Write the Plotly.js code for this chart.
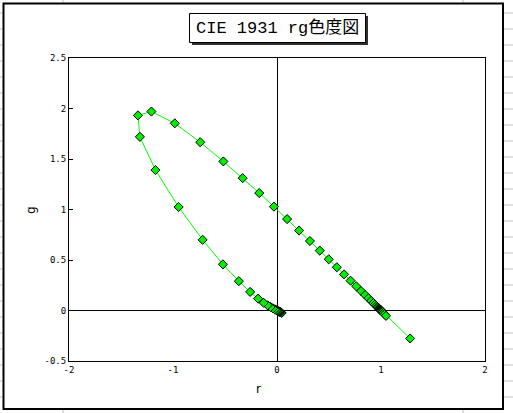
<!DOCTYPE html>
<html>
<head>
<meta charset="utf-8">
<script src="https://cdn.plot.ly/plotly-3.0.1.min.js"></script>
<style>html,body{margin:0;padding:0;background:#fff;}#chart{width:513px;height:413px;}</style>
</head>
<body>
<div id="chart"></div>
<script>
// spectral locus chromaticity coordinates (r, g)
var wavelengths = [380,385,390,395,400,405,410,415,420,425,430,435,440,445,450,455,460,465,470,475,480,485,490,495,500,505,510,515,520,525,530,535,540,545,550,555,560,565,570,575,580,585,590,595,600,605,610,615,620,625,630,635,640,645,650,655,660,665,670,675,680,685,690,695,700,705,710,715,720,725,730,735];
var rVals = [0.045,0.036,0.030,0.026,0.0247,0.0237,0.0225,0.0207,0.0181,0.0142,0.0088,0.0012,-0.0084,-0.0213,-0.0390,-0.0618,-0.0909,-0.1281,-0.1821,-0.2584,-0.3667,-0.5200,-0.7150,-0.9459,-1.1685,-1.3182,-1.3371,-1.2076,-0.9830,-0.7386,-0.5159,-0.3304,-0.1707,-0.0293,0.0974,0.2121,0.3164,0.4112,0.4973,0.5751,0.6449,0.7071,0.7617,0.8087,0.8475,0.8800,0.9059,0.9265,0.9425,0.9550,0.9649,0.9730,0.9797,0.9850,0.9888,0.9918,0.9940,0.9954,0.9966,0.9975,0.9984,0.9991,0.9996,0.9999,1.0000,1.004,1.009,1.016,1.025,1.035,1.048,1.280];
var gVals = [-0.024,-0.018,-0.014,-0.012,-0.0112,-0.0111,-0.0109,-0.0104,-0.0094,-0.0076,-0.0048,-0.0007,0.0048,0.0120,0.0218,0.0345,0.0517,0.0762,0.1175,0.1840,0.2906,0.4568,0.6996,1.0247,1.3905,1.7195,1.9318,1.9699,1.8534,1.6662,1.4761,1.3105,1.1628,1.0282,0.9051,0.7919,0.6881,0.5932,0.5067,0.4283,0.3579,0.2952,0.2402,0.1928,0.1537,0.1209,0.0949,0.0741,0.0580,0.0454,0.0354,0.0272,0.0205,0.0152,0.0113,0.0083,0.0061,0.0047,0.0035,0.0025,0.0016,0.0009,0.0004,0.0001,0.0000,-0.004,-0.009,-0.016,-0.026,-0.038,-0.053,-0.277];

var xTicks = [-2,-1,0,1,2];
var xTickText = ['-2','-1','0','1','2'];
var yTicks = [-0.5,0,0.5,1,1.5,2,2.5];
var yTickText = ['-0.5','0','0.5','1','1.5','2','2.5'];

var titleText = 'CIE 1931 rg色度図';
var xTitle = 'r';
var yTitle = 'g';

// pixel -> paper helpers (plot area 69..485 x, 58..361 y)
var L = 69, R = 485, T = 58, B = 361;
function px(x){ return (x - L) / (R - L); }
function py(y){ return (B - y) / (B - T); }

var shapes = [];
// spreadsheet gridlines outside the chart frame
for (var y = 13; y < 413; y += 16) {
  shapes.push({type:'line', xref:'paper', yref:'paper', x0:px(0), x1:px(3), y0:py(y), y1:py(y), line:{color:'#c0c0c0', width:1}, layer:'below'});
  shapes.push({type:'line', xref:'paper', yref:'paper', x0:px(504), x1:px(513), y0:py(y), y1:py(y), line:{color:'#c0c0c0', width:1}, layer:'below'});
}
[63, 463].forEach(function(x){
  shapes.push({type:'line', xref:'paper', yref:'paper', x0:px(x), x1:px(x), y0:py(0), y1:py(3), line:{color:'#c0c0c0', width:1}, layer:'below'});
  shapes.push({type:'line', xref:'paper', yref:'paper', x0:px(x), x1:px(x), y0:py(410), y1:py(413), line:{color:'#c0c0c0', width:1}, layer:'below'});
});
// chart outer frame
shapes.push({type:'rect', xref:'paper', yref:'paper', x0:px(3.5), x1:px(503), y0:py(3.5), y1:py(409), line:{color:'#000', width:2}, layer:'below'});
// title shadow + box
shapes.push({type:'rect', xref:'paper', yref:'paper', x0:px(192), x1:px(368), y0:py(16), y1:py(45), fillcolor:'#303030', line:{width:0}, layer:'above'});
shapes.push({type:'rect', xref:'paper', yref:'paper', x0:px(189.5), x1:px(365.5), y0:py(13.5), y1:py(42.5), fillcolor:'#ffffff', line:{color:'#000', width:1}, layer:'above'});

var trace = {
  x: rVals, y: gVals, type:'scatter', mode:'lines+markers',
  line:{color:'#00ff00', width:1},
  marker:{symbol:'diamond', size:7, color:'#00ee00', line:{color:'#000', width:1}},
  hoverinfo:'x+y', showlegend:false
};

var tickFont = {family:'DejaVu Sans Mono, monospace', size:9, color:'#000'};

var layout = {
  width:513, height:413,
  margin:{l:L, r:513-R, t:T, b:413-B, pad:0},
  paper_bgcolor:'#fff', plot_bgcolor:'#fff',
  showlegend:false,
  xaxis:{range:[-2,2], tickvals:xTicks, ticktext:xTickText, ticks:'', showgrid:false,
         zeroline:true, zerolinecolor:'#000', zerolinewidth:1,
         showline:true, linecolor:'#000', linewidth:1, mirror:true, tickfont:tickFont, fixedrange:true},
  yaxis:{range:[-0.5,2.5], tickvals:yTicks, ticktext:yTickText, ticks:'inside', ticklen:4, tickcolor:'#000', showgrid:false,
         zeroline:true, zerolinecolor:'#000', zerolinewidth:1,
         showline:true, linecolor:'#000', linewidth:1, mirror:true, tickfont:tickFont, fixedrange:true},
  shapes: shapes,
  annotations:[
    {xref:'paper', yref:'paper', x:px(277.5), y:py(28), text:titleText, showarrow:false, xanchor:'center', yanchor:'middle',
     font:{family:'Liberation Mono, Noto Sans CJK JP, monospace', size:17, color:'#000'}},
    {xref:'paper', yref:'paper', x:px(258), y:py(389), text:xTitle, showarrow:false, xanchor:'center', yanchor:'middle',
     font:{family:'DejaVu Sans, sans-serif', size:12, color:'#000'}},
    {xref:'paper', yref:'paper', x:px(31), y:py(210), text:yTitle, showarrow:false, textangle:-90, xanchor:'center', yanchor:'middle',
     font:{family:'DejaVu Sans, sans-serif', size:12, color:'#000'}}
  ]
};

Plotly.newPlot('chart', [trace], layout, {displayModeBar:false, staticPlot:true});
</script>
</body>
</html>
